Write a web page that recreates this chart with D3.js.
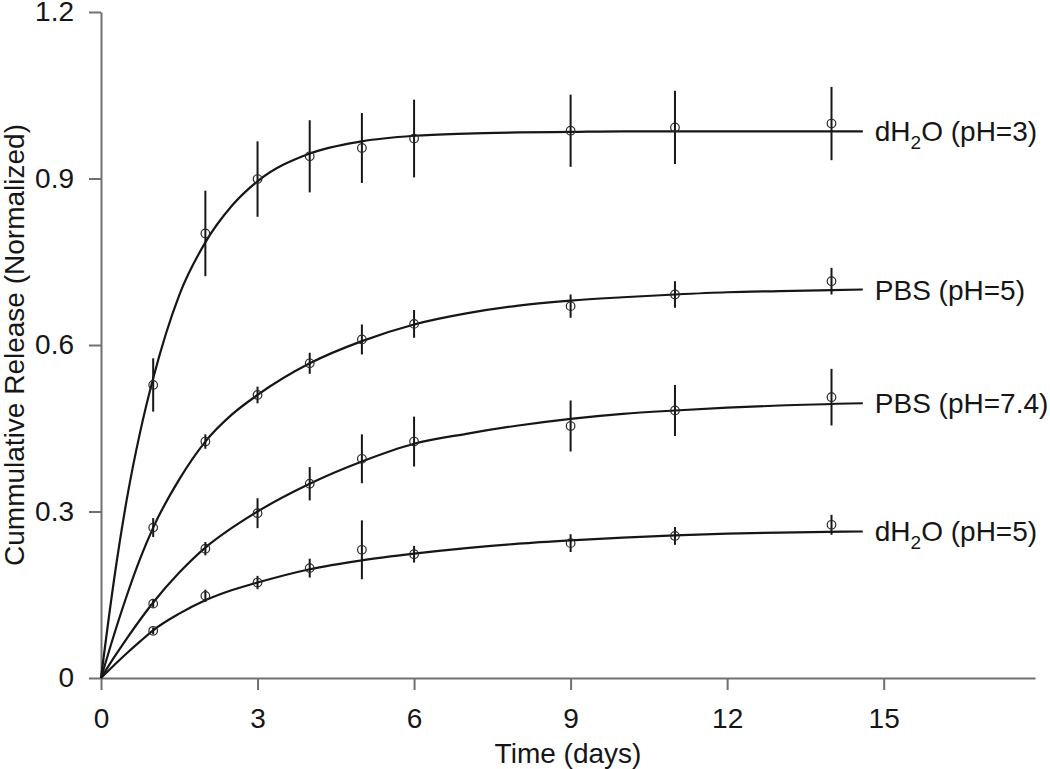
<!DOCTYPE html>
<html>
<head>
<meta charset="utf-8">
<script src="https://cdn.jsdelivr.net/npm/d3@7"></script>
<style>
  html, body { margin: 0; padding: 0; background: #fff; }
  svg { display: block; font-family: "Liberation Sans", Arial, sans-serif; }
</style>
</head>
<body>
<svg id="chart" width="1050" height="769"></svg>
<script>
// ---------- data ----------
const xTicks = [0, 3, 6, 9, 12, 15];
const yTicks = [0, 0.3, 0.6, 0.9, 1.2];
const yTickLabels = ["0", "0.3", "0.6", "0.9", "1.2"];

const days = [1, 2, 3, 4, 5, 6, 9, 11, 14];

const ph3Mean  = [0.528, 0.801, 0.899, 0.940, 0.955, 0.972, 0.986, 0.992, 0.999];
const ph3Err   = [0.048, 0.077, 0.068, 0.065, 0.063, 0.070, 0.065, 0.066, 0.066];
const pbs5Mean = [0.271, 0.426, 0.510, 0.567, 0.610, 0.638, 0.670, 0.691, 0.715];
const pbs5Err  = [0.017, 0.013, 0.015, 0.019, 0.027, 0.025, 0.021, 0.024, 0.024];
const pbs74Mean = [0.134, 0.233, 0.297, 0.350, 0.395, 0.426, 0.454, 0.482, 0.506];
const pbs74Err  = [0.007, 0.012, 0.027, 0.030, 0.044, 0.045, 0.046, 0.046, 0.051];
const h2o5Mean = [0.085, 0.148, 0.172, 0.198, 0.231, 0.223, 0.243, 0.256, 0.276];
const h2o5Err  = [0.006, 0.011, 0.012, 0.017, 0.053, 0.015, 0.016, 0.016, 0.018];

// fitted curves
const fitDays  = [0, 0.25, 0.5, 0.75, 1, 1.5, 2, 2.5, 3, 4, 5, 6, 7, 8, 9, 10, 11, 12, 13, 14.6];
const ph3Fit   = [0, 0.177, 0.325, 0.443, 0.540, 0.690, 0.785, 0.850, 0.895, 0.945, 0.967, 0.977, 0.981, 0.983, 0.984, 0.985, 0.985, 0.985, 0.985, 0.985];
const pbs5Fit  = [0, 0.078, 0.150, 0.215, 0.271, 0.358, 0.426, 0.474, 0.510, 0.567, 0.607, 0.637, 0.657, 0.671, 0.680, 0.686, 0.691, 0.695, 0.697, 0.700];
const pbs74Fit = [0, 0.037, 0.072, 0.105, 0.136, 0.190, 0.235, 0.270, 0.300, 0.350, 0.390, 0.422, 0.440, 0.455, 0.467, 0.476, 0.482, 0.487, 0.491, 0.495];
const h2o5Fit  = [0, 0.023, 0.045, 0.066, 0.086, 0.116, 0.140, 0.158, 0.172, 0.196, 0.212, 0.224, 0.234, 0.242, 0.248, 0.253, 0.257, 0.260, 0.262, 0.264];

const seriesNames = ["dH2O (pH=3)", "PBS (pH=5)", "PBS (pH=7.4)", "dH2O (pH=5)"];
const xTitle = "Time (days)";
const yTitle = "Cummulative Release (Normalized)";

// ---------- layout ----------
const svg = d3.select("#chart");
const x = d3.scaleLinear().domain([0, 17.9]).range([101, 1035]);
const y = d3.scaleLinear().domain([0, 1.2]).range([678, 12]);

const axisColor = "#707070";
const inkColor = "#161616";

// axes
const gx = svg.append("g")
  .attr("transform", `translate(0,${y(0)})`)
  .call(d3.axisBottom(x).tickValues(xTicks).tickSize(12).tickSizeOuter(0).tickPadding(18).tickFormat(d3.format("d")));
const gy = svg.append("g")
  .attr("transform", `translate(${x(0)},0)`)
  .call(d3.axisLeft(y).tickValues(yTicks).tickSize(12).tickSizeOuter(0).tickPadding(15)
        .tickFormat((d, i) => yTickLabels[i]));

[gx, gy].forEach(g => {
  g.select(".domain").attr("stroke", axisColor).attr("stroke-width", 2);
  g.selectAll(".tick line").attr("stroke", axisColor).attr("stroke-width", 2);
  g.selectAll(".tick text").attr("fill", inkColor).style("font-size", "28px")
    .style("font-family", '"Liberation Sans", Arial, sans-serif');
});

// axis titles
svg.append("text")
  .attr("x", (x.range()[0] + x.range()[1]) / 2)
  .attr("y", 763)
  .attr("text-anchor", "middle")
  .attr("fill", inkColor)
  .style("font-size", "28px")
  .text(xTitle);

svg.append("text")
  .attr("transform", `translate(24,${(y(0) + y(1.2)) / 2}) rotate(-90)`)
  .attr("text-anchor", "middle")
  .attr("fill", inkColor)
  .style("font-size", "28px")
  .text(yTitle);

// series
const series = [
  { name: seriesNames[0], mean: ph3Mean, err: ph3Err, fit: ph3Fit },
  { name: seriesNames[1], mean: pbs5Mean, err: pbs5Err, fit: pbs5Fit },
  { name: seriesNames[2], mean: pbs74Mean, err: pbs74Err, fit: pbs74Fit },
  { name: seriesNames[3], mean: h2o5Mean, err: h2o5Err, fit: h2o5Fit }
];

const line = d3.line()
  .x(d => x(d[0]))
  .y(d => y(d[1]))
  .curve(d3.curveMonotoneX);

series.forEach(s => {
  const g = svg.append("g");
  const fitPts = fitDays.map((t, i) => [t, s.fit[i]]);
  g.append("path")
    .attr("d", line(fitPts))
    .attr("fill", "none")
    .attr("stroke", inkColor)
    .attr("stroke-width", 2.2);

  const pts = days.map((t, i) => ({ t, m: s.mean[i], e: s.err[i] }));
  g.selectAll("line.err").data(pts).enter().append("line")
    .attr("class", "err")
    .attr("x1", d => x(d.t)).attr("x2", d => x(d.t))
    .attr("y1", d => y(d.m + d.e)).attr("y2", d => y(d.m - d.e))
    .attr("stroke", inkColor).attr("stroke-width", 2);

  g.selectAll("circle").data(pts).enter().append("circle")
    .attr("cx", d => x(d.t)).attr("cy", d => y(d.m))
    .attr("r", 4.3)
    .attr("fill", "none")
    .attr("stroke", "#2a2a2a").attr("stroke-width", 1.2);

  // label at the end of the fitted curve
  const last = fitPts[fitPts.length - 1];
  const lab = g.append("text")
    .attr("x", x(last[0]) + 12)
    .attr("y", y(last[1]) + 10)
    .attr("fill", inkColor)
    .style("font-size", "28px");
  const m = s.name.match(/^(dH)2(O.*)$/);
  if (m) {
    lab.append("tspan").text(m[1]);
    lab.append("tspan").attr("dy", 8).style("font-size", "19px").text("2");
    lab.append("tspan").attr("dy", -8).text(m[2]);
  } else {
    lab.text(s.name);
  }
});
</script>
</body>
</html>
